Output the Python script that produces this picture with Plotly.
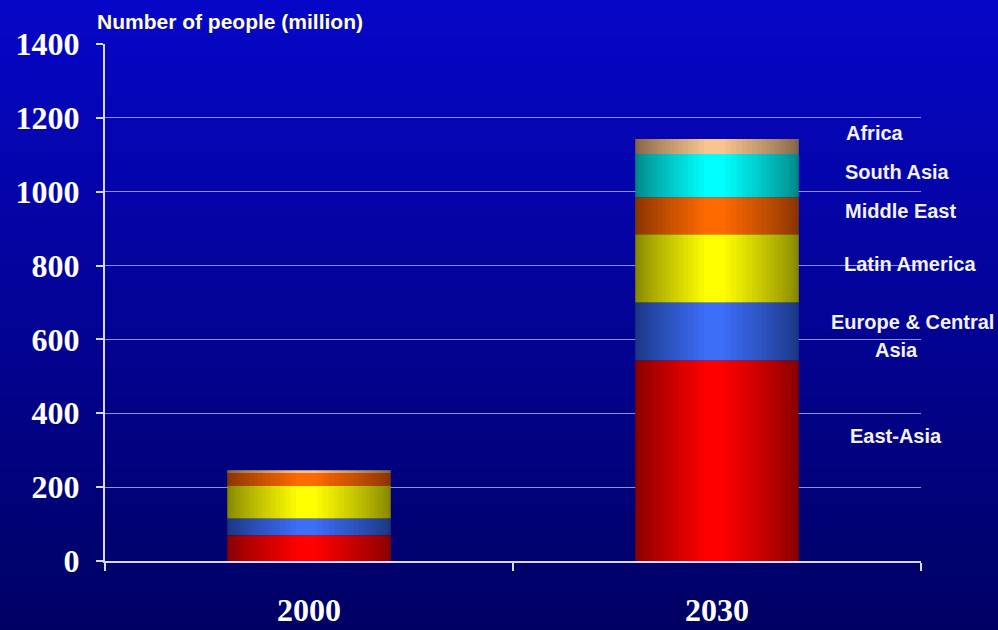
import numpy as np
import plotly.graph_objects as go

# ---------------- data ----------------
categories = ["2000", "2030"]
series_names = ["East-Asia", "Europe & Central Asia", "Latin America",
                "Middle East", "South Asia", "Africa"]
east_asia = [70, 543]
europe_central_asia = [45, 157]
latin_america = [88, 185]
middle_east = [35, 100]
south_asia = [0, 117]
africa = [8, 41]
y_tick_values = [0, 200, 400, 600, 800, 1000, 1200, 1400]

series_values = [east_asia, europe_central_asia, latin_america,
                 middle_east, south_asia, africa]
series_colors = ["#FF0000", "#3C6EF8", "#FFFF00", "#FF6A00", "#00FFFF", "#F8C490"]

# ---------------- geometry helpers (layout only) ----------------
W, H = 998, 630
ML, MR, MT, MB = 105, 77, 44, 69
PW, PH = W - ML - MR, H - MT - MB


def px_x(p):
    return (p - ML) / PW


def px_y(p):
    return (H - MB - p) / PH


BAR_W = 0.40

fig = go.Figure()

# stacked segments (overlay with explicit bases)
base = np.zeros(len(categories))
for name, vals, col in zip(series_names, series_values, series_colors):
    v = np.array(vals, dtype=float)
    fig.add_trace(go.Bar(
        x=categories, y=v, base=base.copy(), name=name,
        marker=dict(color=col, line=dict(width=0)),
        width=BAR_W, offset=-BAR_W / 2, showlegend=False,
    ))
    base = base + v
totals = base

# cylindrical shading: translucent dark strips anchored at the bar edges
K = 20
for side in ("left", "right"):
    reach = 0.42 if side == "left" else 0.45
    for k in range(1, K + 1):
        w = BAR_W * reach * (k / K) ** 1.6
        off = -BAR_W / 2 if side == "left" else BAR_W / 2 - w
        fig.add_trace(go.Bar(
            x=categories, y=totals, base=[0] * len(categories),
            marker=dict(color="rgba(0,0,0,0.032)", line=dict(width=0)),
            width=w, offset=off, showlegend=False, hoverinfo="skip",
        ))

# ---------------- background gradient ----------------
shapes = []
N = 70
top = np.array([6, 6, 200])
bot = np.array([0, 0, 100])
for i in range(N):
    t = i / (N - 1)
    c = top * (1 - t) + bot * t
    y_top_px = i * H / N
    shapes.append(dict(
        type="rect", xref="paper", yref="paper", layer="below",
        x0=px_x(-2), x1=px_x(W + 2), y0=px_y(H + 2), y1=px_y(y_top_px),
        fillcolor="rgb(%d,%d,%d)" % tuple(c.round()), line=dict(width=0),
    ))

# ---------------- annotations ----------------
label_font = dict(family="Arial, Liberation Sans, sans-serif", size=20, color="#F2F2F2")
labels = [("Africa", 875, 133), ("South Asia", 897, 172), ("Middle East", 900, 211),
          ("Latin America", 910, 264), ("Europe & Central", 912, 322), ("Asia", 896, 350),
          ("East-Asia", 896, 436)]
annotations = [dict(text="<b>%s</b>" % t, x=px_x(x), y=px_y(y), xref="paper", yref="paper",
                    xanchor="center", yanchor="middle", showarrow=False, font=label_font)
               for t, x, y in labels]
annotations.append(dict(
    text="<b>Number of people (million)</b>", x=px_x(95), y=px_y(22),
    xref="paper", yref="paper", xanchor="left", yanchor="middle", showarrow=False,
    font=dict(family="Arial, Liberation Sans, sans-serif", size=21, color="#FFFFC8"),
))

serif = dict(family="Times New Roman, Liberation Serif, serif", size=32, color="#FFFFFF")

fig.update_layout(
    width=W, height=H, barmode="overlay",
    margin=dict(l=ML, r=MR, t=MT, b=MB, autoexpand=False),
    paper_bgcolor="#00008C", plot_bgcolor="rgba(0,0,0,0)",
    shapes=shapes, annotations=annotations, showlegend=False,
    xaxis=dict(
        type="category", categoryorder="array", categoryarray=categories,
        automargin=False,
        showline=True, linecolor="#D8D8FF", linewidth=2,
        ticks="outside", tickson="boundaries", ticklen=8, tickcolor="#D8D8FF", tickwidth=2,
        tickfont=serif, tickprefix="<b>", ticksuffix="</b>", ticklabelstandoff=20,
        showgrid=False, zeroline=False,
    ),
    yaxis=dict(
        range=[0, 1400], tickvals=y_tick_values, automargin=False,
        ticktext=["<b>%d</b>" % v for v in y_tick_values],
        showline=True, linecolor="#D8D8FF", linewidth=2,
        ticks="outside", ticklen=7, tickcolor="#D8D8FF", tickwidth=2,
        tickfont=serif, ticklabelstandoff=10,
        showgrid=True, gridcolor="rgba(190,190,255,0.75)", gridwidth=1,
        zeroline=False,
    ),
)

fig.write_html("out.html")
